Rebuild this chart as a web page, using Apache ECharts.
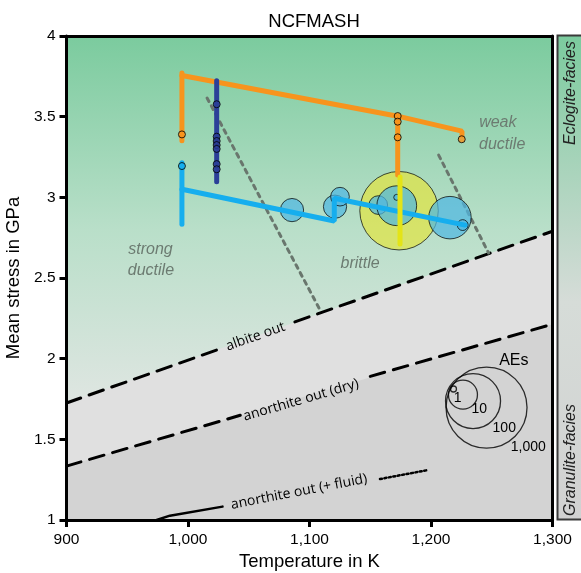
<!DOCTYPE html>
<html><head><meta charset="utf-8">
<script src="https://cdn.jsdelivr.net/npm/echarts@6/dist/echarts.min.js"></script>
<style>html,body{margin:0;padding:0;background:#fff}#c{width:581px;height:573px}</style>
</head><body><div id="c"></div>
<script>
// ---- axes ----
const xTicks = [900, 1000, 1100, 1200, 1300];
const xTickLabels = ['900', '1,000', '1,100', '1,200', '1,300'];
const yTicks = [1, 1.5, 2, 2.5, 3, 3.5, 4];
const yTickLabels = ['1', '1.5', '2', '2.5', '3', '3.5', '4'];

// ---- phase boundaries [T (K), P (GPa)] ----
const albiteOut = [[900, 1.725], [1300, 2.79]];
const albiteOutDashA = [[900, 1.725], [1030, 2.071]];
const albiteOutDashB = [[1088, 2.228], [1300, 2.79]];
const anorthiteDry = [[900, 1.334], [1300, 2.214]];
const anorthiteDryDashA = [[900, 1.334], [1043, 1.649]];
const anorthiteDryDashB = [[1150, 1.89], [1300, 2.214]];
const anorthiteFluidSolid = [[974.2, 1.0], [985.1, 1.027], [1028.4, 1.083]];
const anorthiteFluidDotted = [[1158, 1.254], [1197, 1.309]];
const brittleLeft = [[1015.7, 3.616], [1109.6, 2.289]];
const brittleRight = [[1206.3, 3.262], [1247.4, 2.655]];

// ---- P-T paths ----
const orangeVertA = [[995, 3.351], [995, 3.77]];
const orangePath = [[995, 3.755], [1172.6, 3.503], [1225.5, 3.41], [1225.5, 3.385]];
const orangeVertB = [[1172.6, 3.503], [1172.6, 3.138]];
const blueVert = [[995, 2.833], [995, 3.215]];
const bluePath = [[995, 3.05], [1120.4, 2.853], [1120.4, 2.994], [1228, 2.828]];
const darkBlueVert = [[1023.6, 3.097], [1023.6, 3.723]];
const yellowVert = [[1174.5, 2.71], [1174.5, 3.126]];

// ---- markers ----
const orangeMarkers = [[995, 3.39], [1172.6, 3.504], [1172.6, 3.469], [1172.6, 3.372], [1225.3, 3.36]];
const blueMarkers = [[995, 3.194]];
const darkBlueMarkers = [[1023.6, 3.577], [1023.6, 3.376], [1023.6, 3.349], [1023.6, 3.324], [1023.6, 3.30], [1023.6, 3.206], [1023.6, 3.174]];

// ---- acoustic emission bubbles [T, P, number of AEs] ----
const yellowBubbles = [[1173.7, 2.917, 800]];
const blueBubbles = [
  [1085.6, 2.921, 6], [1121, 2.942, 6], [1125.1, 3.004, 4], [1156.6, 2.952, 4],
  [1171.8, 2.948, 26], [1171.8, 3.0, 1], [1215.6, 2.874, 33], [1226.1, 2.828, 2]
];
const aeLegend = [[1218.5, 1.812, 1], [1226.3, 1.777, 10], [1234.6, 1.737, 100], [1245.7, 1.697, 1000]];
const aeLegendLabels = [[1222, 1.758, '1'], [1239.8, 1.686, '10'], [1260.3, 1.568, '100'], [1280.1, 1.454, '1,000']];
const aeTitle = [[1268.2, 1.987, 'AEs']];

// ---- text annotations [T, P, text, rotation] ----
const lineLabels = [
  [1055.6, 2.137, 'albite out', 19.5],
  [1093, 1.743, 'anorthite out (dry)', 16.3],
  [1091.4, 1.175, 'anorthite out (+ fluid)', 11]
];
const regimeLabels = [
  [1255, 3.462, 'weak'], [1258.6, 3.330, 'ductile'],
  [969.1, 2.678, 'strong'], [969.5, 2.545, 'ductile'],
  [1141.6, 2.591, 'brittle']
];

const aeRadius = n => Math.max(3, 1.5 + 13 * Math.log10(n));
const SANS = 'Liberation Sans, Arial, sans-serif';

function line(data, color, width, type, extra) {
  return Object.assign({
    type: 'line', data, symbol: 'none', silent: true, animation: false,
    lineStyle: { color, width, type: type || 'solid', cap: 'round' }, z: 3
  }, extra || {});
}
function area(data, color) {
  return { type: 'line', data, symbol: 'none', silent: true, animation: false,
    lineStyle: { width: 0 }, areaStyle: { color, opacity: 1, origin: 'start' }, z: 1 };
}
function markers(data, fill, size) {
  return { type: 'scatter', data, symbol: 'circle', symbolSize: size, silent: true, animation: false,
    itemStyle: { color: fill, borderColor: '#000', borderWidth: 1 }, z: 6 };
}
function bubbles(data, fill, opacity, z) {
  return { type: 'scatter', data, symbol: 'circle', silent: true, animation: false,
    symbolSize: v => 2 * aeRadius(v[2]),
    itemStyle: { color: fill, opacity, borderColor: '#000', borderWidth: 1 }, z };
}
function texts(data, style, z) {
  return { type: 'scatter', symbolSize: 0, silent: true, animation: false, z: z || 8,
    itemStyle: { opacity: 1 },
    data: data.map(d => ({ value: [d[0], d[1]], name: d[2], label: { rotate: d[3] || 0 } })),
    label: Object.assign({ show: true, position: 'inside', formatter: p => p.name,
      align: 'center', verticalAlign: 'middle', textBorderWidth: 0, textShadowBlur: 0 }, style) };
}

const chart = echarts.init(document.getElementById('c'), null, { renderer: 'canvas' });
chart.setOption({
  animation: false,
  title: { text: 'NCFMASH', left: 309, top: 7, textAlign: 'center',
    textStyle: { fontFamily: SANS, fontSize: 18.5, fontWeight: 'normal', color: '#000' } },
  grid: { left: 66.5, right: 28.5, top: 36, bottom: 53, show: true, borderWidth: 0,
    containLabel: false, outerBoundsMode: 'none',
    backgroundColor: new echarts.graphic.LinearGradient(0, 0, 0, 1, [
      { offset: 0, color: '#7bcb9e' }, { offset: 0.4, color: '#b9dfc9' },
      { offset: 0.78, color: '#e1e6e3' }, { offset: 1, color: '#e6e6e6' }]) },
  xAxis: [{
    type: 'value', min: 900, max: 1300, interval: 100, z: 10,
    name: 'Temperature in K', nameLocation: 'middle', nameGap: 31,
    nameTextStyle: { fontFamily: SANS, fontSize: 18.5, color: '#000' },
    axisLine: { lineStyle: { color: '#000', width: 3 } },
    axisTick: { length: 7, lineStyle: { color: '#000', width: 3 } },
    axisLabel: { margin: 12, fontFamily: SANS, fontSize: 15.5, color: '#000',
      formatter: v => { const i = xTicks.indexOf(v); return i < 0 ? '' : xTickLabels[i]; } },
    splitLine: { show: false }
  }, {
    type: 'value', min: 900, max: 1300, position: 'top', z: 10,
    axisLine: { lineStyle: { color: '#000', width: 3 } },
    axisTick: { show: false }, axisLabel: { show: false }, splitLine: { show: false }
  }],
  yAxis: [{
    type: 'value', min: 1, max: 4, interval: 0.5, z: 10,
    name: 'Mean stress in GPa', nameLocation: 'middle', nameGap: 38,
    nameTextStyle: { fontFamily: SANS, fontSize: 18.5, color: '#000' },
    axisLine: { lineStyle: { color: '#000', width: 3 } },
    axisTick: { length: 7, lineStyle: { color: '#000', width: 3 } },
    axisLabel: { margin: 11, fontFamily: SANS, fontSize: 15.5, color: '#000',
      formatter: v => { const i = yTicks.indexOf(v); return i < 0 ? '' : yTickLabels[i]; } },
    splitLine: { show: false }
  }, {
    type: 'value', min: 1, max: 4, position: 'right', z: 10,
    axisLine: { lineStyle: { color: '#000', width: 3 } },
    axisTick: { show: false }, axisLabel: { show: false }, splitLine: { show: false }
  }],
  graphic: [
    { type: 'rect', shape: { x: 557.5, y: 35.5, width: 30, height: 484 }, silent: true,
      style: { stroke: '#3a3a3a', lineWidth: 2,
        fill: new echarts.graphic.LinearGradient(0, 0, 0, 1, [
          { offset: 0, color: '#7bcb9e' }, { offset: 0.55, color: '#d6dcd8' },
          { offset: 1, color: '#d1d1d1' }]) } },
    { type: 'text', x: 571, y: 93, rotation: Math.PI / 2, silent: true,
      style: { text: 'Eclogite-facies', fontFamily: SANS, fontStyle: 'italic', fontSize: 16,
        fill: '#222', textAlign: 'center', textVerticalAlign: 'middle' } },
    { type: 'text', x: 571, y: 460, rotation: Math.PI / 2, silent: true,
      style: { text: 'Granulite-facies', fontFamily: SANS, fontStyle: 'italic', fontSize: 16,
        fill: '#222', textAlign: 'center', textVerticalAlign: 'middle' } }
  ],
  series: [
    area(albiteOut, '#e0e0e0'),
    area(anorthiteDry, '#d3d3d3'),
    line(albiteOutDashA, '#000', 3, [15, 9]),
    line(albiteOutDashB, '#000', 3, [15, 9]),
    line(anorthiteDryDashA, '#000', 3, [15, 9]),
    line(anorthiteDryDashB, '#000', 3, [15, 9]),
    line(anorthiteFluidSolid, '#000', 2.5, 'solid'),
    line(anorthiteFluidDotted, '#000', 2.5, [2, 2.5]),
    line(brittleLeft, '#69766d', 3, [4, 5]),
    line(brittleRight, '#69766d', 3, [4, 5]),
    bubbles(yellowBubbles, '#e2e440', 0.7, 4),
    bubbles(blueBubbles, '#4fb7e2', 0.72, 4),
    line(orangeVertA, '#f7941d', 5, 'solid', { z: 5 }),
    line(orangePath, '#f7941d', 5, 'solid', { z: 5 }),
    line(orangeVertB, '#f7941d', 5, 'solid', { z: 5 }),
    line(blueVert, '#16aeee', 5, 'solid', { z: 5 }),
    line(bluePath, '#16aeee', 5, 'solid', { z: 5 }),
    line(darkBlueVert, '#2b3f98', 5, 'solid', { z: 5 }),
    line(yellowVert, '#e4e416', 5, 'solid', { z: 5 }),
    markers(orangeMarkers, '#f7941d', 7),
    markers(blueMarkers, '#16aeee', 7),
    markers(darkBlueMarkers, '#2b3f98', 7),
    { type: 'scatter', data: aeLegend, symbol: 'circle', silent: true, animation: false,
      symbolSize: v => 2 * aeRadius(v[2]),
      itemStyle: { color: 'rgba(0,0,0,0)', borderColor: '#000', borderWidth: 1.3 }, z: 6 },
    texts(aeLegendLabels, { fontFamily: SANS, fontSize: 14, color: '#000' }),
    texts(aeTitle, { fontFamily: SANS, fontSize: 16, color: '#000' }),
    texts(lineLabels, { fontFamily: 'Open Sans, sans-serif', fontSize: 14, color: '#000' }),
    texts(regimeLabels, { fontFamily: SANS, fontSize: 16, fontStyle: 'italic', color: '#6c7b71' })
  ]
});
</script></body></html>
